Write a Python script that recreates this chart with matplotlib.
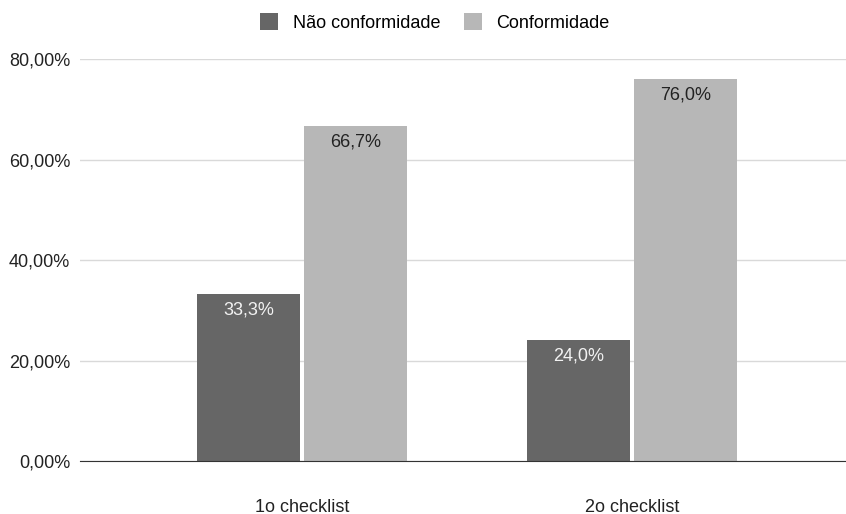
import matplotlib
matplotlib.use("Agg")
import matplotlib.pyplot as plt
import numpy as np

plt.rcParams['font.family'] = ['Liberation Sans', 'DejaVu Sans']

# dados
categorias = ['1o checklist', '2o checklist']
nao_conformidade = [33.3, 24.0]
conformidade = [66.7, 76.0]
rotulos_nao = ['33,3%', '24,0%']
rotulos_conf = ['66,7%', '76,0%']
yticks = [0, 20, 40, 60, 80]
ytick_labels = ['0,00%', '20,00%', '40,00%', '60,00%', '80,00%']

cor_escura = '#666666'
cor_clara = '#b7b7b7'

fig = plt.figure(figsize=(8.46, 5.14), dpi=100)
ax = fig.add_axes([0.0946, 0.1031, 0.9054, 0.7821])

x = np.arange(len(categorias))
w = 0.312
gap = 0.006
b1 = ax.bar(x - w / 2 - gap, nao_conformidade, w, color=cor_escura, label='Não conformidade', zorder=3)
b2 = ax.bar(x + w / 2 + gap, conformidade, w, color=cor_clara, label='Conformidade', zorder=3)

for rect, txt in zip(b1, rotulos_nao):
    ax.annotate(txt, (rect.get_x() + rect.get_width() / 2, rect.get_height()),
                xytext=(0, -11.5), textcoords='offset points', ha='center', va='center',
                color='#f2f2f2', fontsize=13)
for rect, txt in zip(b2, rotulos_conf):
    ax.annotate(txt, (rect.get_x() + rect.get_width() / 2, rect.get_height()),
                xytext=(0, -11.5), textcoords='offset points', ha='center', va='center',
                color='#222222', fontsize=13)

ax.set_ylim(0, 80)
ax.set_xlim(-0.673, 1.648)
ax.set_yticks(yticks)
ax.set_yticklabels(ytick_labels)
ax.set_xticks(x)
ax.set_xticklabels(categorias)
ax.tick_params(axis='both', length=0, labelsize=13, colors='#222222')
ax.tick_params(axis='y', pad=7)
ax.tick_params(axis='x', pad=27)
ax.grid(axis='y', color='#d9d9d9', linewidth=1, zorder=0)
for s in ['top', 'right', 'left']:
    ax.spines[s].set_visible(False)
ax.spines['bottom'].set_color('#333333')
ax.spines['bottom'].set_zorder(4)

ax.legend(loc='lower center', bbox_to_anchor=(0.463, 1.05), ncol=2, frameon=False,
          fontsize=13, handlelength=1.0, handleheight=1.0, columnspacing=1.3,
          handletextpad=0.8, borderaxespad=0)

fig.savefig('out.png', dpi=100)
